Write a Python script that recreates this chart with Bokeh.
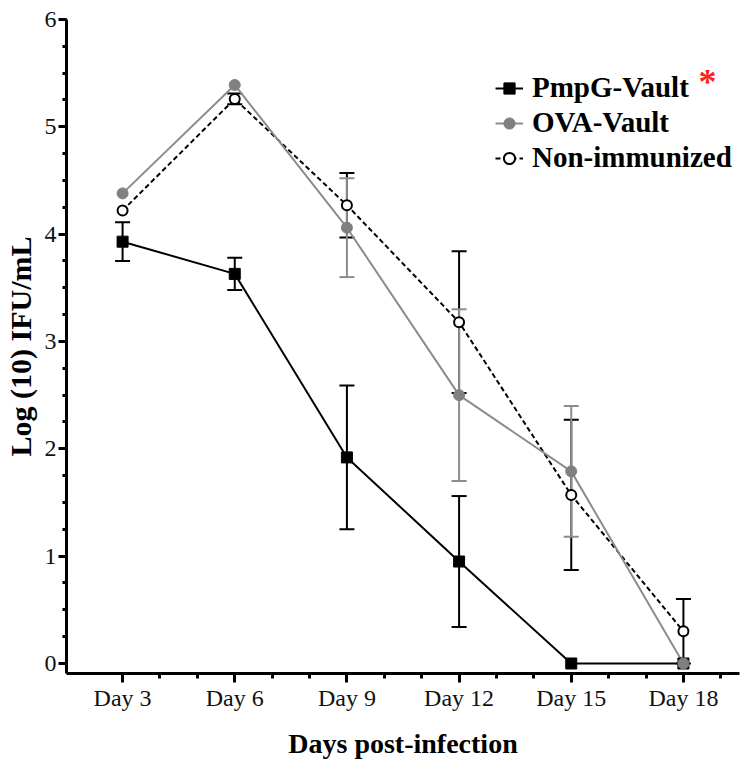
from bokeh.plotting import figure
from bokeh.models import (ColumnDataSource, Whisker, TeeHead, Range1d, FixedTicker,
                          Legend, LegendItem, Label)
from bokeh.embed import file_html
from bokeh.resources import INLINE

# ---- data ----
days = [3, 6, 9, 12, 15, 18]
tick_labels = ["Day 3", "Day 6", "Day 9", "Day 12", "Day 15", "Day 18"]

pmpg_mean = [3.93, 3.63, 1.92, 0.95, 0.0, 0.0]
pmpg_err = [0.18, 0.15, 0.67, 0.61, 0.0, 0.0]

ova_mean = [4.38, 5.39, 4.06, 2.50, 1.79, 0.0]
ova_err = [0.0, 0.0, 0.46, 0.80, 0.61, 0.0]

non_mean = [4.22, 5.26, 4.27, 3.18, 1.57, 0.30]
non_err = [0.0, 0.05, 0.30, 0.66, 0.70, 0.30]

FONT = "Liberation Serif"
GRAY = "#808080"
GRAY_LINE = "#8c8c8c"


def whisker_source(x, m, e):
    xs, lo, hi = [], [], []
    for xi, mi, ei in zip(x, m, e):
        if ei > 0:
            xs.append(xi)
            lo.append(mi - ei)
            hi.append(mi + ei)
    return ColumnDataSource(dict(x=xs, lower=lo, upper=hi))


W, H = 740, 762
p = figure(width=W, height=H, output_backend="svg", toolbar_location=None,
           x_range=Range1d(1.5, 19.5), y_range=Range1d(-0.0932, 6.0),
           min_border_left=58, min_border_right=1, min_border_top=19,
           min_border_bottom=89)
p.outline_line_color = None
p.xgrid.visible = False
p.ygrid.visible = False
p.background_fill_color = "white"
p.border_fill_color = "white"

# error bars (drawn beneath markers)
for x, m, e, col in [(days, non_mean, non_err, "black"),
                     (days, ova_mean, ova_err, GRAY_LINE),
                     (days, pmpg_mean, pmpg_err, "black")]:
    src = whisker_source(x, m, e)
    w = Whisker(base="x", lower="lower", upper="upper", source=src,
                line_color=col, line_width=2,
                upper_head=TeeHead(size=15, line_color=col, line_width=2),
                lower_head=TeeHead(size=15, line_color=col, line_width=2))
    p.add_layout(w)

# lines
l_pmpg = p.line(days, pmpg_mean, line_color="black", line_width=2)
l_non = p.line(days, non_mean, line_color="black", line_width=2, line_dash="5 3")
l_ova = p.line(days, ova_mean, line_color=GRAY_LINE, line_width=2)

# markers
m_pmpg = p.scatter(days, pmpg_mean, marker="square", size=11,
                   fill_color="black", line_color="black")
m_ova = p.scatter(days, ova_mean, marker="circle", size=11,
                  fill_color=GRAY, line_color=GRAY)
m_non = p.scatter(days, non_mean, marker="circle", size=10,
                  fill_color="white", line_color="black", line_width=2)

# axes
xa = p.xaxis[0]
xa.ticker = FixedTicker(ticks=days, minor_ticks=list(range(3, 20)))
xa.major_label_overrides = {d: lab for d, lab in zip(days, tick_labels)}
xa.axis_line_width = 3
xa.major_tick_line_width = 3
xa.minor_tick_line_width = 3
xa.major_tick_out = 9
xa.major_tick_in = 0
xa.minor_tick_out = 5
xa.minor_tick_in = 0
xa.major_label_text_font = FONT
xa.major_label_text_font_size = "24px"
xa.major_label_text_color = "#111111"
xa.major_label_standoff = 2
xa.axis_label = "Days post-infection"
xa.axis_label_text_font = FONT
xa.axis_label_text_font_style = "bold"
xa.axis_label_text_font_size = "28px"
xa.axis_label_text_color = "black"
xa.axis_label_standoff = 14

ya = p.yaxis[0]
ya.ticker = FixedTicker(ticks=[0, 1, 2, 3, 4, 5, 6],
                        minor_ticks=[i * 0.25 for i in range(25)])
ya.axis_line_width = 3
ya.major_tick_line_width = 3
ya.minor_tick_line_width = 3
ya.major_tick_out = 8
ya.major_tick_in = 0
ya.minor_tick_out = 4
ya.minor_tick_in = 0
ya.major_label_text_font = FONT
ya.major_label_text_font_size = "24px"
ya.major_label_text_color = "#111111"
ya.major_label_standoff = 2
ya.axis_label = "Log (10) IFU/mL"
ya.axis_label_text_font = FONT
ya.axis_label_text_font_style = "bold"
ya.axis_label_text_font_size = "30px"
ya.axis_label_text_color = "black"
ya.axis_label_standoff = 5

# legend
legend = Legend(items=[
    LegendItem(label="PmpG-Vault", renderers=[l_pmpg, m_pmpg]),
    LegendItem(label="OVA-Vault", renderers=[l_ova, m_ova]),
    LegendItem(label="Non-immunized", renderers=[l_non, m_non]),
], location=(429, 499))
legend.label_text_font = FONT
legend.label_text_font_style = "bold"
legend.label_text_font_size = "29px"
legend.label_text_color = "black"
legend.glyph_width = 28
legend.glyph_height = 30
legend.label_height = 30
legend.label_standoff = 9
legend.spacing = 2
legend.padding = 0
legend.margin = 0
legend.border_line_color = None
legend.background_fill_alpha = 0
p.add_layout(legend)

star = Label(x=641, y=592, x_units="screen", y_units="screen", text="*",
             text_font=FONT, text_font_style="bold", text_font_size="36px",
             text_color="#ff2020", text_align="center", text_baseline="alphabetic")
p.add_layout(star)

open("out.html", "w").write(file_html(p, INLINE))
